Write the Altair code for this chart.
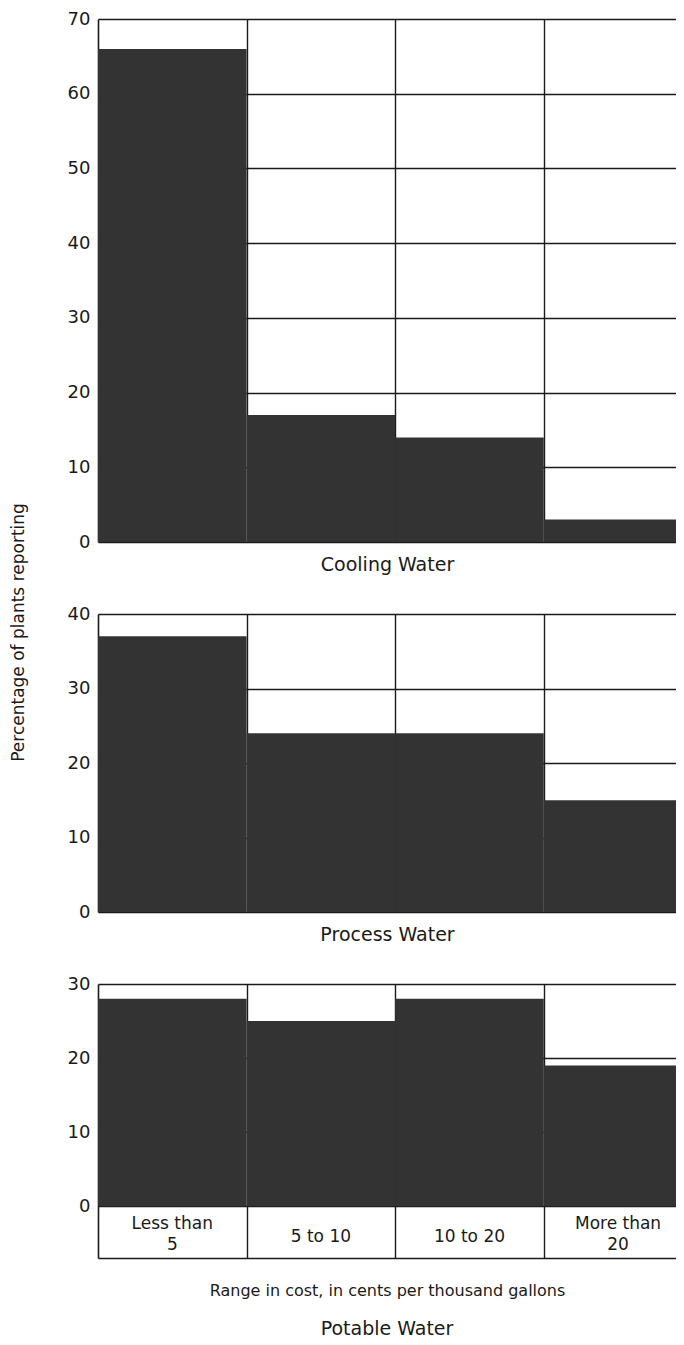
import altair as alt
import pandas as pd

# ---- data ----
categories = ["Less than\n5", "5 to 10", "10 to 20", "More than\n20"]
cooling = [66, 17, 14, 3]
process = [37, 24, 24, 15]
potable = [28, 25, 28, 19]
cooling_ticks = [0, 10, 20, 30, 40, 50, 60, 70]
process_ticks = [0, 10, 20, 30, 40]
potable_ticks = [0, 10, 20, 30]
panel_titles = ["Cooling Water", "Process Water", "Potable Water"]
y_title = "Percentage of plants reporting"
x_title = "Range in cost, in cents per thousand gallons"

FONT = "DejaVu Sans"
INK = "#1a1a1a"
BAR = "#333333"
W = 578
X_DOMAIN = [0, 3.89]


def frame(values):
    n = len(values)
    return pd.DataFrame({
        "cat": categories,
        "x0": list(range(n)),
        "x1": [i + 1 for i in range(n)],
        "pct": values,
        "base": [0] * n,
    })


def yaxis(ticks, title=None):
    kw = dict(values=ticks, grid=True, gridColor=INK, gridWidth=1.4,
              ticks=False, domain=True, domainColor=INK, domainWidth=1.6,
              labelFont=FONT, labelFontSize=18, labelColor=INK, labelPadding=8,
              title=title)
    if title:
        kw.update(titleAngle=270, titleX=-80, titleY=18, titleAlign="center",
                  titleBaseline="middle", titleFont=FONT, titleFontSize=17,
                  titleFontWeight="normal", titleColor=INK)
    return alt.Axis(**kw)


def xaxis(title, pad, size, domain=False):
    return alt.Axis(values=[1, 2, 3], grid=True, gridColor=INK, gridWidth=1.4,
                    labels=False, ticks=False, domain=domain, domainColor=INK,
                    domainWidth=1.6, title=title, titlePadding=pad,
                    titleFont=FONT, titleFontSize=size, titleFontWeight="normal",
                    titleColor=INK)


def bars(values, ymin, ymax, ticks, height, xax, ytitle=None):
    return alt.Chart(frame(values)).mark_rect(color=BAR, clip=True).encode(
        x=alt.X("x0:Q", scale=alt.Scale(domain=X_DOMAIN, nice=False, zero=False), axis=xax),
        x2="x1",
        y=alt.Y("pct:Q", scale=alt.Scale(domain=[ymin, ymax], nice=False), axis=yaxis(ticks, ytitle)),
        y2="base",
    ).properties(width=W, height=height)


def cat_labels(two_lines, dy):
    test = "indexof(datum.cat, '\\n') >= 0"
    if not two_lines:
        test = "!(" + test + ")"
    return alt.Chart(frame(potable)).mark_text(
        font=FONT, fontSize=17, color=INK, lineBreak="\n", lineHeight=21,
        baseline="middle", align="center", dy=dy
    ).encode(
        x=alt.X("mid:Q"),
        y=alt.datum(-3.5),
        text="cat:N",
    ).transform_filter(test).transform_calculate(mid="datum.x0 + 0.5")


p1 = bars(cooling, 0, 70, cooling_ticks, 523, xaxis(panel_titles[0], 13, 19))
p2 = bars(process, 0, 40, process_ticks, 298, xaxis(panel_titles[1], 13, 19), ytitle=y_title)

b3 = bars(potable, -7, 30, potable_ticks, 274, xaxis(x_title, 24, 16, domain=True))
p3 = alt.layer(b3, cat_labels(True, -8), cat_labels(False, 5)).properties(
    title=alt.TitleParams(panel_titles[2], orient="bottom", frame="group", anchor="middle",
                          font=FONT, fontSize=19, fontWeight="normal", color=INK, offset=22)
)

chart = alt.vconcat(p1, p2, p3, spacing=72, bounds="flush").configure_view(
    stroke=None
).properties(padding={"left": 0, "top": 2, "right": 0, "bottom": 0}, background="white")

chart.save("out.html", embed_options={"renderer": "svg", "actions": False})
